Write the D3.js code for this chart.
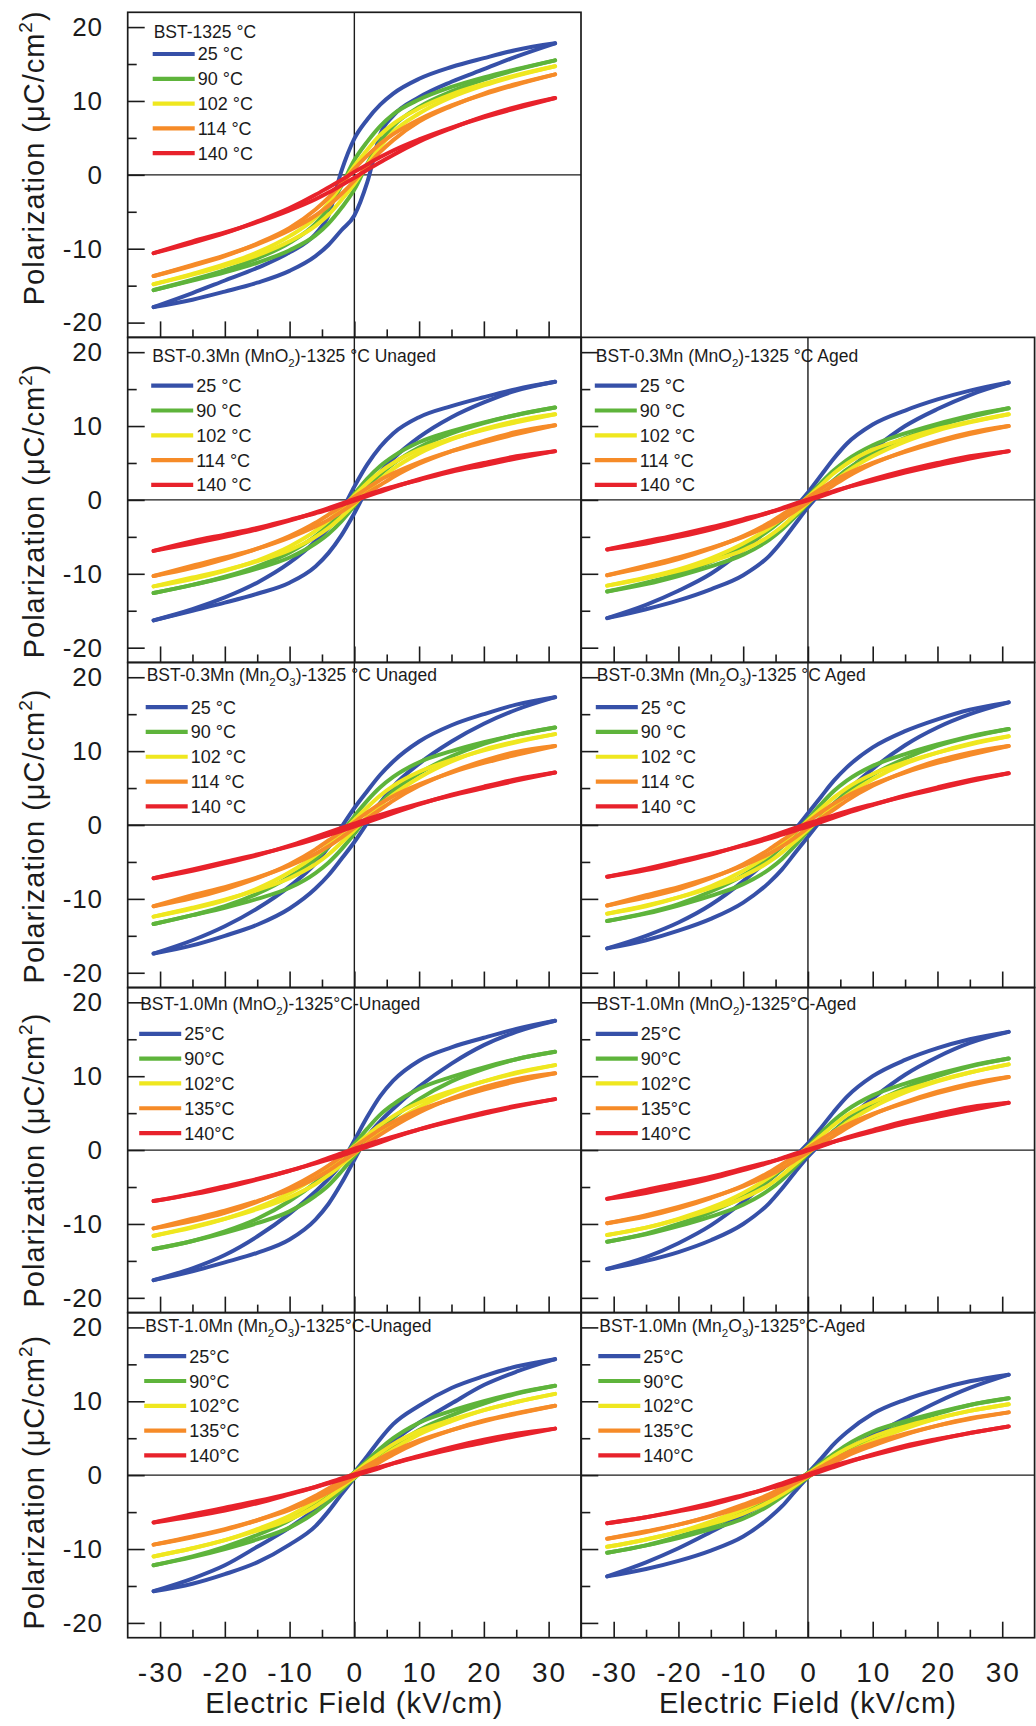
<!DOCTYPE html>
<html>
<head>
<meta charset="utf-8">
<script src="https://cdn.jsdelivr.net/npm/d3@7"></script>
<style>
  html, body { margin: 0; padding: 0; background: #fff; }
  svg { display: block; }
  text { font-family: "Liberation Sans", Arial, sans-serif; fill: #1b1b1b; }
</style>
</head>
<body>
<svg id="chart" width="1036" height="1726"></svg>
<script>
// ---------------------------------------------------------------------------
// Data: P-E hysteresis loops. Each loop has a lower branch (field rising)
// and an upper branch (field falling), sampled at the same field points.
// ---------------------------------------------------------------------------
const fieldPoints = [-31, -25, -20, -15, -10, -6, -4, -2, 0, 2, 4, 6, 10, 15, 20, 25, 31];

const tempsA = ["25 °C", "90 °C", "102 °C", "114 °C", "140 °C"];
const tempsB = ["25°C", "90°C", "102°C", "135°C", "140°C"];

const panelTitles = [
  "BST-1325 °C",
  "BST-0.3Mn (MnO_2)-1325 °C Unaged",
  "BST-0.3Mn (MnO_2)-1325 °C Aged",
  "BST-0.3Mn (Mn_2O_3)-1325 °C Unaged",
  "BST-0.3Mn (Mn_2O_3)-1325 °C Aged",
  "BST-1.0Mn (MnO_2)-1325°C-Unaged",
  "BST-1.0Mn (MnO_2)-1325°C-Aged",
  "BST-1.0Mn (Mn_2O_3)-1325°C-Unaged",
  "BST-1.0Mn (Mn_2O_3)-1325°C-Aged"
];
const panelTemps = [tempsA, tempsA, tempsA, tempsA, tempsA, tempsB, tempsB, tempsB, tempsB];

const xMajorTicks = [-30, -20, -10, 0, 10, 20, 30];
const xMinorTicks = [-25, -15, -5, 5, 15, 25];
const yMajorTicks = [-20, -10, 0, 10, 20];
const yMinorTicks = [-15, -5, 5, 15];

// BST-1325 °C
const p0Upper = [
  [-17.9,-16.0,-14.3,-12.6,-10.5,-8.0,-5.5,0.5,4.9,7.5,9.5,11.0,13.0,14.6,15.8,16.9,17.8],
  [-15.6,-14.2,-12.9,-11.3,-9.2,-6.6,-4.5,-1.5,2.0,4.5,6.6,8.2,10.2,11.9,13.2,14.3,15.5],
  [-14.8,-13.4,-12.1,-10.5,-8.3,-5.8,-3.8,-1.4,1.2,3.4,5.4,6.9,9.0,10.9,12.3,13.5,14.7],
  [-13.7,-12.3,-11.0,-9.3,-7.2,-4.7,-3.1,-1.2,0.8,2.6,4.2,5.5,7.5,9.4,10.9,12.2,13.6],
  [-10.6,-9.2,-7.9,-6.3,-4.5,-2.7,-1.7,-0.7,0.4,1.4,2.4,3.3,4.8,6.4,7.8,9.0,10.4]
];
const p0Lower = [
  [-17.9,-16.9,-15.8,-14.6,-13.0,-11.0,-9.5,-7.5,-5.5,-1.0,5.5,8.0,10.5,12.6,14.3,16.0,17.8],
  [-15.6,-14.3,-13.2,-11.9,-10.2,-8.2,-6.6,-4.5,-2.0,1.5,4.5,6.6,9.2,11.3,12.9,14.2,15.5],
  [-14.8,-13.5,-12.3,-10.9,-9.0,-6.9,-5.4,-3.4,-1.2,1.4,3.8,5.8,8.3,10.5,12.1,13.4,14.7],
  [-13.7,-12.2,-10.9,-9.4,-7.5,-5.5,-4.2,-2.6,-0.8,1.2,3.1,4.7,7.2,9.3,11.0,12.3,13.6],
  [-10.6,-9.0,-7.8,-6.4,-4.8,-3.3,-2.4,-1.4,-0.4,0.7,1.7,2.7,4.5,6.3,7.9,9.2,10.4]
];

// BST-0.3Mn (MnO2) unaged
const p1Upper = [
  [-16.3,-14.8,-13.2,-11.2,-8.5,-5.6,-3.8,-1.5,1.8,4.8,7.2,9.0,11.2,12.7,13.9,15.0,16.0],
  [-12.6,-11.5,-10.4,-9.0,-7.1,-4.9,-3.4,-1.5,0.8,2.9,4.6,5.9,7.8,9.3,10.5,11.5,12.5],
  [-11.7,-10.7,-9.6,-8.2,-6.3,-4.2,-2.8,-1.2,0.6,2.3,3.8,5.0,6.8,8.3,9.5,10.5,11.6],
  [-10.3,-9.2,-8.0,-6.6,-4.9,-3.1,-2.0,-0.9,0.4,1.6,2.7,3.6,5.1,6.6,7.8,8.9,10.1],
  [-6.9,-5.9,-5.0,-4.0,-2.8,-1.7,-1.1,-0.5,0.1,0.7,1.3,1.8,2.7,3.8,4.7,5.6,6.6]
];
const p1Lower = [
  [-16.3,-15.0,-13.9,-12.7,-11.2,-9.0,-7.2,-4.8,-1.8,1.5,3.8,5.6,8.5,11.2,13.2,14.8,16.0],
  [-12.6,-11.5,-10.5,-9.3,-7.8,-5.9,-4.6,-2.9,-0.8,1.5,3.4,4.9,7.1,9.0,10.4,11.5,12.5],
  [-11.7,-10.5,-9.5,-8.3,-6.8,-5.0,-3.8,-2.3,-0.6,1.2,2.8,4.2,6.3,8.2,9.6,10.7,11.6],
  [-10.3,-8.9,-7.8,-6.6,-5.1,-3.6,-2.7,-1.6,-0.4,0.9,2.0,3.1,4.9,6.6,8.0,9.2,10.1],
  [-6.9,-5.6,-4.7,-3.8,-2.7,-1.8,-1.3,-0.7,-0.1,0.5,1.1,1.7,2.8,4.0,5.0,5.9,6.6]
];

// BST-0.3Mn (MnO2) aged
const p2Upper = [
  [-16.0,-14.2,-12.3,-10.0,-6.8,-3.9,-2.5,-1.0,1.0,3.3,5.6,7.6,10.2,12.1,13.6,14.8,15.9],
  [-12.4,-11.2,-10.0,-8.4,-6.3,-4.1,-2.7,-1.2,0.5,2.3,4.0,5.4,7.4,9.0,10.3,11.4,12.4],
  [-11.6,-10.5,-9.4,-7.9,-5.9,-3.8,-2.5,-1.1,0.4,2.0,3.6,4.9,6.8,8.3,9.6,10.6,11.6],
  [-10.2,-9.1,-8.0,-6.6,-4.9,-3.1,-2.0,-0.9,0.3,1.5,2.6,3.5,5.0,6.5,7.8,8.9,10.0],
  [-6.7,-5.9,-5.0,-4.0,-2.8,-1.7,-1.1,-0.5,0.05,0.6,1.2,1.7,2.6,3.7,4.7,5.6,6.6]
];
const p2Lower = [
  [-16.0,-14.8,-13.6,-12.1,-10.2,-7.6,-5.6,-3.3,-1.0,1.0,2.5,3.9,6.8,10.0,12.3,14.2,15.9],
  [-12.4,-11.4,-10.3,-9.0,-7.4,-5.4,-4.0,-2.3,-0.5,1.2,2.7,4.1,6.3,8.4,10.0,11.2,12.4],
  [-11.6,-10.6,-9.6,-8.3,-6.8,-4.9,-3.6,-2.0,-0.4,1.1,2.5,3.8,5.9,7.9,9.4,10.5,11.6],
  [-10.2,-8.9,-7.8,-6.5,-5.0,-3.5,-2.6,-1.5,-0.3,0.9,2.0,3.1,4.9,6.6,8.0,9.1,10.0],
  [-6.7,-5.6,-4.7,-3.7,-2.6,-1.7,-1.2,-0.6,-0.05,0.5,1.1,1.7,2.8,4.0,5.0,5.9,6.6]
];

// BST-0.3Mn (Mn2O3) unaged
const p3Upper = [
  [-17.4,-15.6,-13.7,-11.3,-8.3,-5.2,-3.0,-0.3,2.3,4.6,6.8,8.6,11.3,13.5,15.0,16.3,17.3],
  [-13.4,-12.2,-11.0,-9.3,-7.0,-4.6,-3.0,-1.1,1.2,3.3,5.1,6.5,8.5,10.0,11.2,12.2,13.2],
  [-12.4,-11.3,-10.2,-8.6,-6.4,-4.1,-2.7,-1.1,0.7,2.4,4.0,5.3,7.2,8.8,10.1,11.2,12.3],
  [-11.0,-9.9,-8.7,-7.2,-5.3,-3.3,-2.1,-0.9,0.4,1.7,2.9,3.9,5.5,7.1,8.4,9.5,10.7],
  [-7.2,-6.2,-5.2,-4.1,-2.8,-1.6,-1.0,-0.4,0.2,0.8,1.35,1.9,2.9,4.0,5.0,6.0,7.1]
];
const p3Lower = [
  [-17.4,-16.3,-15.0,-13.5,-11.3,-8.6,-6.8,-4.6,-2.3,0.3,3.0,5.2,8.3,11.3,13.7,15.6,17.3],
  [-13.4,-12.2,-11.2,-10.0,-8.5,-6.5,-5.1,-3.3,-1.2,1.1,3.0,4.6,7.0,9.3,11.0,12.2,13.2],
  [-12.4,-11.2,-10.1,-8.8,-7.2,-5.3,-4.0,-2.4,-0.7,1.1,2.7,4.1,6.4,8.6,10.2,11.3,12.3],
  [-11.0,-9.5,-8.4,-7.1,-5.5,-3.9,-2.9,-1.7,-0.4,0.9,2.1,3.3,5.3,7.2,8.7,9.9,10.7],
  [-7.2,-6.0,-5.0,-4.0,-2.9,-1.9,-1.35,-0.8,-0.2,0.4,1.0,1.6,2.8,4.1,5.2,6.2,7.1]
];

// BST-0.3Mn (Mn2O3) aged
const p4Upper = [
  [-16.7,-15.0,-13.2,-10.8,-7.6,-4.5,-2.6,-0.6,1.6,3.8,6.0,7.8,10.5,12.7,14.3,15.6,16.6],
  [-13.0,-11.9,-10.7,-9.0,-6.8,-4.4,-2.9,-1.1,0.8,2.8,4.6,6.0,8.0,9.6,10.9,12.0,13.0],
  [-12.0,-11.0,-9.8,-8.3,-6.2,-4.0,-2.6,-1.0,0.6,2.2,3.7,5.0,6.9,8.5,9.8,10.9,12.0],
  [-10.9,-9.8,-8.7,-7.2,-5.3,-3.3,-2.1,-0.9,0.4,1.7,2.9,3.9,5.5,7.1,8.4,9.5,10.7],
  [-7.0,-6.1,-5.1,-4.0,-2.7,-1.6,-1.0,-0.4,0.2,0.75,1.3,1.85,2.8,3.9,4.9,5.9,7.0]
];
const p4Lower = [
  [-16.7,-15.6,-14.3,-12.7,-10.5,-7.8,-6.0,-3.8,-1.6,0.6,2.6,4.5,7.6,10.8,13.2,15.0,16.6],
  [-13.0,-12.0,-10.9,-9.6,-8.0,-6.0,-4.6,-2.8,-0.8,1.1,2.9,4.4,6.8,9.0,10.7,11.9,13.0],
  [-12.0,-10.9,-9.8,-8.5,-6.9,-5.0,-3.7,-2.2,-0.6,1.0,2.6,4.0,6.2,8.3,9.8,11.0,12.0],
  [-10.9,-9.5,-8.4,-7.1,-5.5,-3.9,-2.9,-1.7,-0.4,0.9,2.1,3.3,5.3,7.2,8.7,9.8,10.7],
  [-7.0,-5.9,-4.9,-3.9,-2.8,-1.85,-1.3,-0.75,-0.2,0.4,1.0,1.6,2.7,4.0,5.1,6.1,7.0]
];

// BST-1.0Mn (MnO2) unaged
const p5Upper = [
  [-17.6,-16.0,-14.2,-11.7,-8.6,-5.6,-3.9,-1.8,1.3,4.5,7.3,9.4,12.1,13.9,15.2,16.4,17.5],
  [-13.4,-12.3,-11.0,-9.3,-6.9,-4.4,-2.9,-1.2,0.8,2.9,4.8,6.2,8.3,9.9,11.2,12.3,13.3],
  [-11.6,-10.5,-9.3,-7.8,-5.8,-3.7,-2.4,-1.0,0.5,2.0,3.4,4.6,6.4,8.0,9.3,10.4,11.5],
  [-10.6,-9.6,-8.5,-7.0,-5.1,-3.2,-2.1,-0.9,0.4,1.6,2.8,3.8,5.4,6.9,8.2,9.3,10.4],
  [-6.9,-6.0,-5.1,-4.0,-2.8,-1.7,-1.05,-0.45,0.15,0.75,1.3,1.8,2.8,3.9,4.9,5.9,6.9]
];
const p5Lower = [
  [-17.6,-16.4,-15.2,-13.9,-12.1,-9.4,-7.3,-4.5,-1.3,1.8,3.9,5.6,8.6,11.7,14.2,16.0,17.5],
  [-13.4,-12.3,-11.2,-9.9,-8.3,-6.2,-4.8,-2.9,-0.8,1.2,2.9,4.4,6.9,9.3,11.0,12.3,13.3],
  [-11.6,-10.4,-9.3,-8.0,-6.4,-4.6,-3.4,-2.0,-0.5,1.0,2.4,3.7,5.8,7.8,9.3,10.5,11.5],
  [-10.6,-9.3,-8.2,-6.9,-5.4,-3.8,-2.8,-1.6,-0.4,0.9,2.1,3.2,5.1,7.0,8.5,9.6,10.4],
  [-6.9,-5.9,-4.9,-3.9,-2.8,-1.8,-1.3,-0.75,-0.15,0.45,1.05,1.7,2.8,4.0,5.1,6.0,6.9]
];

// BST-1.0Mn (MnO2) aged
const p6Upper = [
  [-16.1,-14.5,-12.6,-10.2,-7.0,-4.1,-2.6,-0.9,0.9,3.0,5.2,7.2,10.0,12.2,13.8,15.0,16.0],
  [-12.4,-11.3,-10.0,-8.4,-6.3,-4.0,-2.6,-1.1,0.5,2.3,4.0,5.4,7.4,9.0,10.3,11.4,12.4],
  [-11.5,-10.5,-9.3,-7.8,-5.8,-3.7,-2.4,-1.0,0.4,1.9,3.4,4.7,6.5,8.1,9.4,10.5,11.6],
  [-9.9,-9.0,-7.9,-6.5,-4.8,-3.0,-1.9,-0.8,0.3,1.4,2.5,3.4,4.9,6.4,7.7,8.8,9.9],
  [-6.6,-5.8,-4.9,-3.9,-2.7,-1.7,-1.1,-0.5,0.05,0.6,1.15,1.6,2.5,3.6,4.5,5.4,6.4]
];
const p6Lower = [
  [-16.1,-15.0,-13.8,-12.2,-10.0,-7.2,-5.2,-3.0,-0.9,0.9,2.6,4.1,7.0,10.2,12.6,14.5,16.0],
  [-12.4,-11.4,-10.3,-9.0,-7.4,-5.4,-4.0,-2.3,-0.5,1.1,2.6,4.0,6.3,8.4,10.0,11.3,12.4],
  [-11.5,-10.5,-9.4,-8.1,-6.5,-4.7,-3.4,-1.9,-0.4,1.0,2.4,3.7,5.8,7.8,9.3,10.5,11.6],
  [-9.9,-8.8,-7.7,-6.4,-4.9,-3.4,-2.5,-1.4,-0.3,0.8,1.9,3.0,4.8,6.5,7.9,9.0,9.9],
  [-6.6,-5.4,-4.5,-3.6,-2.5,-1.6,-1.15,-0.6,-0.05,0.5,1.1,1.7,2.7,3.9,4.9,5.8,6.4]
];

// BST-1.0Mn (Mn2O3) unaged
const p7Upper = [
  [-15.7,-14.0,-12.2,-9.7,-7.1,-4.6,-3.2,-1.6,0.4,2.6,4.9,6.9,9.4,11.8,13.4,14.7,15.7],
  [-12.2,-11.0,-9.7,-8.1,-6.1,-3.9,-2.6,-1.1,0.4,2.0,3.6,5.0,7.1,8.7,10.0,11.1,12.1],
  [-11.0,-9.9,-8.8,-7.3,-5.5,-3.5,-2.3,-1.0,0.3,1.7,3.0,4.2,6.0,7.5,8.8,9.9,11.0],
  [-9.4,-8.4,-7.4,-6.1,-4.5,-2.8,-1.8,-0.8,0.2,1.3,2.3,3.2,4.7,6.1,7.3,8.3,9.4],
  [-6.4,-5.6,-4.8,-3.8,-2.6,-1.6,-1.0,-0.45,0.1,0.6,1.1,1.6,2.5,3.5,4.4,5.3,6.3]
];
const p7Lower = [
  [-15.7,-14.7,-13.4,-11.8,-9.4,-6.9,-4.9,-2.6,-0.4,1.6,3.2,4.6,7.1,9.7,12.2,14.0,15.7],
  [-12.2,-11.1,-10.0,-8.7,-7.1,-5.0,-3.6,-2.0,-0.4,1.1,2.6,3.9,6.1,8.1,9.7,11.0,12.1],
  [-11.0,-9.9,-8.8,-7.5,-6.0,-4.2,-3.0,-1.7,-0.3,1.0,2.3,3.5,5.5,7.3,8.8,9.9,11.0],
  [-9.4,-8.3,-7.3,-6.1,-4.7,-3.2,-2.3,-1.3,-0.2,0.8,1.8,2.8,4.5,6.1,7.4,8.4,9.4],
  [-6.4,-5.3,-4.4,-3.5,-2.5,-1.6,-1.1,-0.6,-0.1,0.45,1.0,1.6,2.6,3.8,4.8,5.6,6.3]
];

// BST-1.0Mn (Mn2O3) aged
const p8Upper = [
  [-13.7,-11.8,-9.9,-7.7,-5.4,-3.5,-2.4,-1.2,0.3,2.2,4.2,5.8,8.3,10.2,11.6,12.7,13.6],
  [-10.5,-9.5,-8.3,-6.9,-5.0,-3.2,-2.1,-0.9,0.3,1.6,2.9,4.1,5.9,7.3,8.5,9.5,10.4],
  [-9.7,-8.7,-7.7,-6.3,-4.6,-2.9,-1.9,-0.9,0.2,1.4,2.6,3.6,5.2,6.6,7.7,8.7,9.6],
  [-8.6,-7.7,-6.7,-5.5,-4.0,-2.6,-1.7,-0.8,0.15,1.1,2.1,3.0,4.3,5.6,6.7,7.6,8.5],
  [-6.5,-5.7,-4.9,-4.0,-2.8,-1.7,-1.1,-0.5,0.1,0.7,1.3,1.8,2.7,3.8,4.8,5.7,6.6]
];
const p8Lower = [
  [-13.7,-12.7,-11.6,-10.2,-8.3,-5.8,-4.2,-2.2,-0.3,1.2,2.4,3.5,5.4,7.7,9.9,11.8,13.6],
  [-10.5,-9.5,-8.5,-7.3,-5.9,-4.1,-2.9,-1.6,-0.3,0.9,2.1,3.2,5.0,6.9,8.3,9.5,10.4],
  [-9.7,-8.7,-7.7,-6.6,-5.2,-3.6,-2.6,-1.4,-0.2,0.9,1.9,2.9,4.6,6.3,7.7,8.7,9.6],
  [-8.6,-7.6,-6.7,-5.6,-4.3,-3.0,-2.1,-1.1,-0.15,0.8,1.7,2.6,4.0,5.5,6.7,7.7,8.5],
  [-6.5,-5.7,-4.8,-3.8,-2.7,-1.8,-1.3,-0.7,-0.1,0.5,1.1,1.7,2.8,4.0,4.9,5.7,6.6]
];

const panelUpper = [p0Upper, p1Upper, p2Upper, p3Upper, p4Upper, p5Upper, p6Upper, p7Upper, p8Upper];
const panelLower = [p0Lower, p1Lower, p2Lower, p3Lower, p4Lower, p5Lower, p6Lower, p7Lower, p8Lower];

// ---------------------------------------------------------------------------
// Layout
// ---------------------------------------------------------------------------
const seriesColors = ["#3650a8", "#5eb43b", "#efe71f", "#f68b28", "#e8222b"];
const panelGrid = [[0,0],[1,0],[1,1],[2,0],[2,1],[3,0],[3,1],[4,0],[4,1]];
const colLeft = [127.7, 581.3];
const panelW = 453.3;
const gridTop = 12.3;
const panelH = 325.08;
const legendLeft = [25, 23.5, 13.5, 18, 14.5, 11.5, 14.5, 16.5, 17];
const titleDy = [19.4, 19, 12.8, 16.4, 12.9];
const legendDy = [41.7, 48.3, 44.7, 46.3, 43.6];
const legendStep = 24.8;
const yTitleShift = [-17, 11, 11, 10, 7];
const ink = "#1b1b1b";

const svg = d3.select("#chart");

const x = d3.scaleLinear().domain([-35, 35]).range([0, panelW]);
const y = d3.scaleLinear().domain([-22, 22]).range([panelH, 0]);

const branch = d3.line()
  .x((d, i) => x(fieldPoints[i]))
  .y(d => y(d))
  .curve(d3.curveMonotoneX);

function addRichText(sel, str) {
  // "_n" marks a subscript digit; text after it returns to the baseline
  const parts = str.split(/_(\d)/);
  let lowered = false;
  parts.forEach((p, i) => {
    if (p === "") return;
    if (i % 2 === 1) {
      sel.append("tspan").attr("font-size", 11.5).attr("dy", lowered ? 0 : 5).text(p);
      lowered = true;
    } else {
      const t = sel.append("tspan").text(p);
      if (lowered) { t.attr("dy", -5); lowered = false; }
    }
  });
}

panelGrid.forEach(([row, col], pi) => {
  const g = svg.append("g")
    .attr("transform", `translate(${colLeft[col]},${gridTop + row * panelH})`);

  // zero lines
  g.append("line").attr("x1", 0).attr("x2", panelW).attr("y1", y(0)).attr("y2", y(0))
    .attr("stroke", ink).attr("stroke-width", 1.4);
  g.append("line").attr("x1", x(0)).attr("x2", x(0)).attr("y1", 0).attr("y2", panelH)
    .attr("stroke", ink).attr("stroke-width", 1.4);

  // loops, blue drawn first, red on top
  const up = panelUpper[pi], lo = panelLower[pi];
  up.forEach((u, si) => {
    [lo[si], u].forEach(b => {
      g.append("path")
        .attr("d", branch(b))
        .attr("fill", "none")
        .attr("stroke", seriesColors[si])
        .attr("stroke-width", 4)
        .attr("stroke-linecap", "round")
        .attr("stroke-linejoin", "round");
    });
  });

  // inward ticks
  const yMaj = d3.axisLeft(y).tickValues(yMajorTicks).tickSize(-17).tickPadding(25)
    .tickFormat(col === 0 ? (d => String(d)) : "");
  const yMin = d3.axisLeft(y).tickValues(yMinorTicks).tickSize(-9).tickFormat("");
  const xMaj = d3.axisBottom(x).tickValues(xMajorTicks).tickSize(-16).tickFormat("");
  const xMin = d3.axisBottom(x).tickValues(xMinorTicks).tickSize(-8).tickFormat("");

  [yMaj, yMin].forEach(ax => {
    const a = g.append("g").call(ax);
    a.select(".domain").remove();
    a.selectAll("line").attr("stroke", ink).attr("stroke-width", 1.6);
    a.selectAll("text").attr("font-size", 26).attr("letter-spacing", 0.8)
      .attr("font-family", '"Liberation Sans", Arial, sans-serif').attr("fill", ink);
  });
  [xMaj, xMin].forEach(ax => {
    const a = g.append("g").attr("transform", `translate(0,${panelH})`).call(ax);
    a.select(".domain").remove();
    a.selectAll("line").attr("stroke", ink).attr("stroke-width", 1.6);
  });

  // frame
  g.append("rect").attr("x", 0).attr("y", 0).attr("width", panelW).attr("height", panelH)
    .attr("fill", "none").attr("stroke", ink).attr("stroke-width", 1.7);

  // legend
  const lx = legendLeft[pi];
  const title = g.append("text").attr("x", lx + 1).attr("y", titleDy[row] + 6)
    .attr("font-size", 17.5);
  addRichText(title, panelTitles[pi]);

  panelTemps[pi].forEach((t, si) => {
    const ly = legendDy[row] + si * legendStep;
    g.append("line").attr("x1", lx).attr("x2", lx + 42).attr("y1", ly).attr("y2", ly)
      .attr("stroke", seriesColors[si]).attr("stroke-width", 4.2);
    g.append("text").attr("x", lx + 45).attr("y", ly + 6.5).attr("font-size", 18).text(t);
  });
});

// y axis titles, one per row
for (let r = 0; r < 5; r++) {
  const cy = gridTop + r * panelH + panelH / 2 + yTitleShift[r];
  const t = svg.append("text")
    .attr("transform", `translate(43.5,${cy}) rotate(-90)`)
    .attr("text-anchor", "middle")
    .attr("font-size", 29)
    .attr("letter-spacing", 1);
  t.append("tspan").text("Polarization (μC/cm");
  t.append("tspan").attr("font-size", 19).attr("dy", -12).text("2");
  t.append("tspan").attr("dy", 12).text(")");
}

// x tick labels and titles under the bottom row
const bottom = gridTop + 5 * panelH;
colLeft.forEach(cx => {
  svg.append("g").selectAll("text").data(xMajorTicks).join("text")
    .attr("x", d => cx + x(d) + 1)
    .attr("y", bottom + 44)
    .attr("text-anchor", "middle")
    .attr("font-size", 28)
    .attr("letter-spacing", 2)
    .text(d => String(d));
  svg.append("text")
    .attr("x", cx + x(0))
    .attr("y", bottom + 75.6)
    .attr("text-anchor", "middle")
    .attr("font-size", 29)
    .attr("letter-spacing", 1.1)
    .text("Electric Field (kV/cm)");
});
</script>
</body>
</html>
